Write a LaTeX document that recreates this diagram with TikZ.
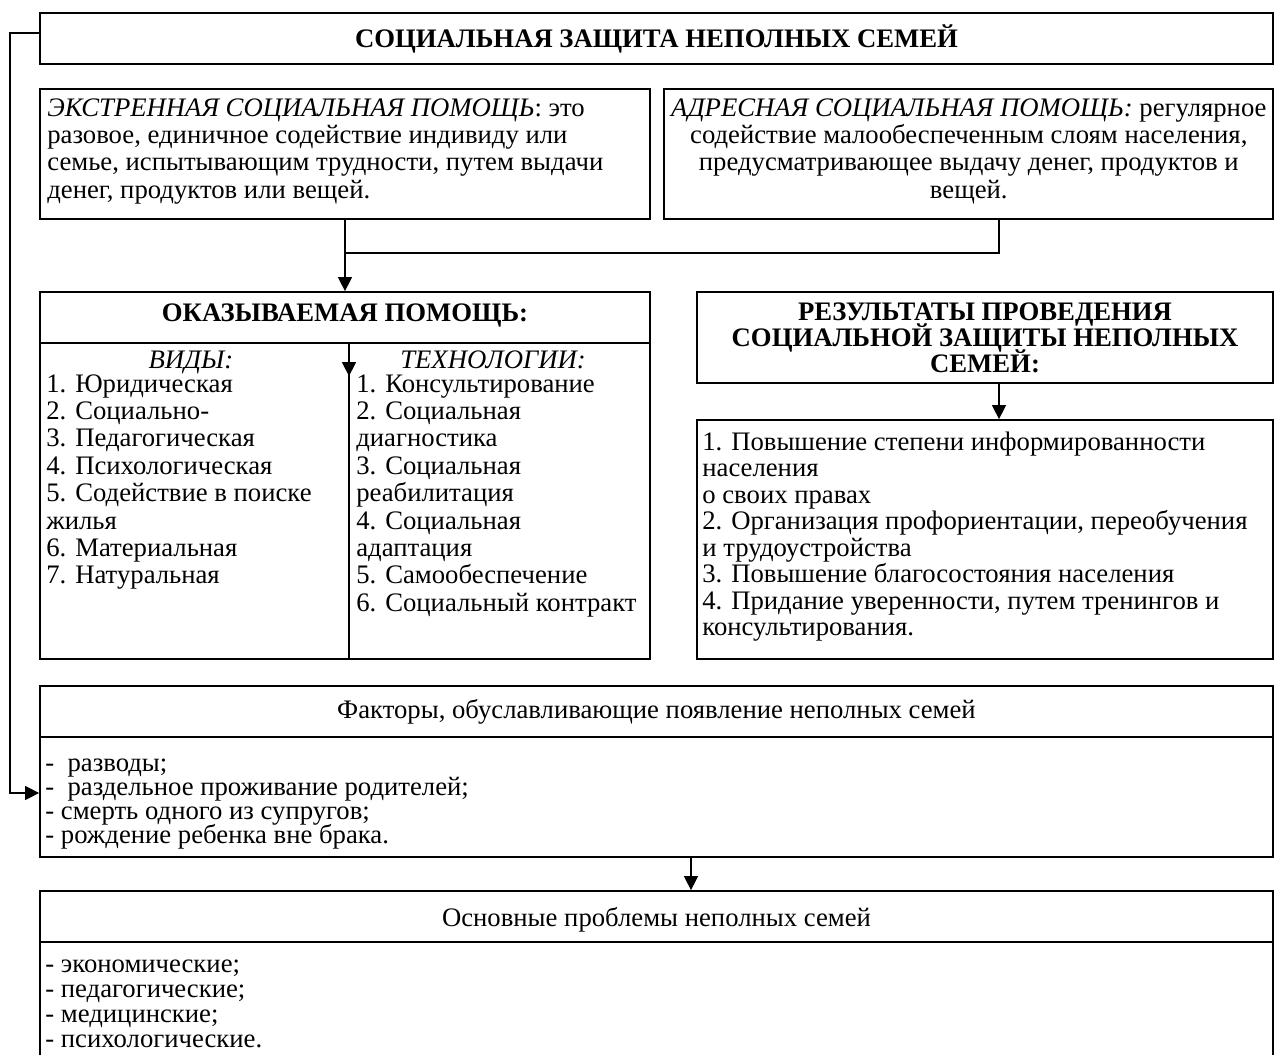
\documentclass[tikz,border=0pt]{standalone}
\usepackage{fontspec}
\setmainfont{Liberation Serif}
\usetikzlibrary{arrows.meta,fit}

\newcommand{\leftlines}[2]{\parbox[t]{#1}{\lineskiplimit=-20pt\relax #2}}
\newcommand{\midlines}[2]{\parbox[t]{#1}{\lineskiplimit=-20pt\relax\centering #2}}

\tikzset{
  frame/.style={draw, line width=1pt, inner sep=0pt},
  txt/.style={inner sep=0pt, anchor=base west, font=\fontsize{15.2}{14.8}\selectfont},
  head/.style={inner sep=0pt, anchor=base, font=\fontsize{15.2}{15}\selectfont},
  link/.style={line width=0.8pt},
  arr/.style={link, -{Triangle[length=8pt,width=8pt]}}
}

\begin{document}
\begin{tikzpicture}[x=0.02cm, y=-0.02cm]
    \useasboundingbox (0,0) rectangle (1286,1055);
    \clip (0,0) rectangle (1286,1055);

    % boxes
    \node[frame, fit={(40,13) (1273,64)}] (title) {};
    \node[frame, fit={(40,89) (650,219)}] (extr) {};
    \node[frame, fit={(664,89) (1273,219)}] (adres) {};
    \node[frame, fit={(40,292) (650,343)}] (okazhead) {};
    \node[frame, fit={(40,343) (650,659)}] (okazbody) {};
    \node[frame, fit={(697,292) (1273,383)}] (reshead) {};
    \node[frame, fit={(697,420) (1273,659)}] (resbody) {};
    \node[frame, fit={(40,686) (1273,737)}] (facthead) {};
    \node[frame, fit={(40,737) (1273,857)}] (factbody) {};
    \node[frame, fit={(40,891) (1273,942)}] (probhead) {};
    \node[frame, fit={(40,942) (1273,1090)}] (probbody) {};

    % texts
    \node[head] (titletext) at (656.5,47) {\bfseries СОЦИАЛЬНАЯ ЗАЩИТА НЕПОЛНЫХ СЕМЕЙ};
    \node[txt, font=\fontsize{15.2}{15.6}\selectfont] (extrtext) at (47,116) {\leftlines{12cm}{\textit{ЭКСТРЕННАЯ СОЦИАЛЬНАЯ ПОМОЩЬ}: это\\
        разовое, единичное содействие индивиду или\\
        семье, испытывающим трудности, путем выдачи\\
        денег, продуктов или вещей.}};
    \node[txt, font=\fontsize{15.2}{15.6}\selectfont] (adrestext) at (666,116) {\midlines{12.1cm}{\textit{АДРЕСНАЯ СОЦИАЛЬНАЯ ПОМОЩЬ:} регулярное\\
        содействие малообеспеченным слоям населения,\\
        предусматривающее выдачу денег, продуктов и\\
        вещей.}};
    \node[head] (okaztext) at (345,321) {\bfseries ОКАЗЫВАЕМАЯ ПОМОЩЬ:};
    \node[head] (vidytext) at (191,368) {\itshape ВИДЫ:};
    \node[head] (techtext) at (493,368) {\itshape ТЕХНОЛОГИИ:};
    \node[txt, font=\fontsize{15.2}{15.6}\selectfont] (vidy) at (46,392) {\leftlines{6cm}{1. Юридическая\\ 2. Социально-\\ 3. Педагогическая\\
        4. Психологическая\\ 5. Содействие в поиске\\ жилья\\ 6. Материальная\\ 7. Натуральная}};
    \node[txt, font=\fontsize{15.2}{15.6}\selectfont] (tech) at (356,392) {\leftlines{5.8cm}{1. Консультирование\\ 2. Социальная\\ диагностика\\
        3. Социальная\\ реабилитация\\ 4. Социальная\\ адаптация\\ 5. Самообеспечение\\ 6. Социальный контракт}};
    \node[head] (restext) at (985,320) {\midlines{11.3cm}{\bfseries РЕЗУЛЬТАТЫ ПРОВЕДЕНИЯ\\
        СОЦИАЛЬНОЙ ЗАЩИТЫ НЕПОЛНЫХ\\ СЕМЕЙ:}};
    \node[txt, font=\fontsize{15.2}{15.1}\selectfont] (reslist) at (702,450) {\leftlines{11.3cm}{1. Повышение степени информированности\\ населения\\ о своих правах\\
        2. Организация профориентации, переобучения\\ и трудоустройства\\ 3. Повышение благосостояния населения\\
        4. Придание уверенности, путем тренингов и\\ консультирования.}};
    \node[head] (facttext) at (656.5,718) {Факторы, обуславливающие появление неполных семей};
    \node[txt, font=\fontsize{15.2}{13.7}\selectfont] (factlist) at (45,771) {\leftlines{20cm}{-\ \ разводы;\\
        -\ \ раздельное проживание родителей;\\ - смерть одного из супругов;\\ - рождение ребенка вне брака.}};
    \node[head] (probtext) at (656.5,926) {Основные проблемы неполных семей};
    \node[txt, font=\fontsize{15.2}{14.4}\selectfont] (problist) at (45,972) {\leftlines{20cm}{- экономические;\\
        - педагогические;\\ - медицинские;\\ - психологические.}};

    % connectors
    \coordinate (join) at (345,253);
    \coordinate (rail) at (999,0);
    \coordinate (split) at (349,0);
    \coordinate (drop) at (691,0);
    \draw[arr] (extr.south) -- (okazhead.north);
    \draw[link] (adres.south -| rail) |- (join);
    \draw[arr] (reshead.south -| rail) -- (resbody.north -| rail);
    \draw[link] (okazbody.north -| split) -- (okazbody.south -| split);
    \draw[arr] (okazbody.north -| split) -- ++(0,34);
    \draw[arr] (factbody.south -| drop) -- (probhead.north -| drop);
    \draw[arr] ([yshift=0.11cm]title.west) -- ++(-29,0) |- ([yshift=0.08cm]factbody.west);
\end{tikzpicture}
\end{document}
